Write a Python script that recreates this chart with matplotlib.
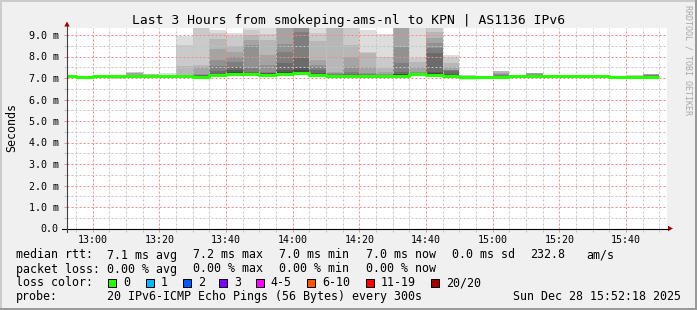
import matplotlib
matplotlib.use("Agg")
import matplotlib.pyplot as plt
import matplotlib.dates as mdates
from matplotlib.patches import Rectangle, Polygon
from matplotlib.lines import Line2D
from matplotlib.ticker import MultipleLocator, FuncFormatter
import numpy as np
import pandas as pd

W, H = 697, 310
FONT = "DejaVu Sans Mono"
plt.rcParams["font.family"] = FONT

TITLE = "Last 3 Hours from smokeping-ams-nl to KPN | AS1136 IPv6"
t_start = pd.Timestamp("2025-12-28 12:52:18")
t_end = pd.Timestamp("2025-12-28 15:52:18")
# 36 five-minute bins, 12:50 .. 15:50
bin_edges = pd.date_range("2025-12-28 12:50", periods=37, freq="5min")

median_ms = [7.07, 7.06, 7.07, 7.07, 7.08, 7.08, 7.07, 7.08, 7.06, 7.12,
             7.20, 7.18, 7.15, 7.20, 7.24, 7.15, 7.07, 7.10, 7.10, 7.10,
             7.10, 7.18, 7.12, 7.08, 7.06, 7.03, 7.06, 7.07, 7.08, 7.08,
             7.07, 7.08, 7.08, 7.05, 7.05, 7.04]

# 20 sorted pings per bin (ms)
pings_ms = [
    [7.02, 7.03, 7.04, 7.05, 7.05, 7.06, 7.06, 7.06, 7.07, 7.07, 7.07, 7.08, 7.08, 7.08, 7.09, 7.09, 7.10, 7.11, 7.13, 7.15],
    [6.97, 6.99, 7.01, 7.02, 7.03, 7.04, 7.05, 7.05, 7.06, 7.06, 7.06, 7.07, 7.07, 7.07, 7.08, 7.08, 7.09, 7.09, 7.10, 7.11],
    [7.02, 7.03, 7.04, 7.05, 7.05, 7.06, 7.06, 7.06, 7.07, 7.07, 7.07, 7.07, 7.08, 7.08, 7.08, 7.09, 7.09, 7.10, 7.10, 7.11],
    [6.97, 6.99, 7.01, 7.02, 7.04, 7.05, 7.05, 7.06, 7.06, 7.07, 7.07, 7.08, 7.08, 7.08, 7.09, 7.09, 7.10, 7.10, 7.11, 7.12],
    [7.03, 7.04, 7.05, 7.05, 7.06, 7.06, 7.07, 7.07, 7.08, 7.08, 7.08, 7.09, 7.09, 7.10, 7.12, 7.16, 7.25, 7.25, 7.26, 7.27],
    [7.03, 7.04, 7.05, 7.06, 7.06, 7.07, 7.07, 7.07, 7.08, 7.08, 7.08, 7.09, 7.10, 7.12, 7.15, 7.16, 7.16, 7.17, 7.17, 7.18],
    [7.02, 7.03, 7.04, 7.05, 7.05, 7.06, 7.06, 7.06, 7.07, 7.07, 7.07, 7.08, 7.08, 7.08, 7.09, 7.09, 7.10, 7.11, 7.15, 7.22],
    [7.01, 7.03, 7.04, 7.05, 7.06, 7.06, 7.07, 7.07, 7.08, 7.08, 7.09, 7.10, 7.11, 7.12, 7.13, 7.14, 7.15, 7.56, 8.53, 8.97],
    [6.99, 7.01, 7.02, 7.03, 7.04, 7.05, 7.05, 7.06, 7.06, 7.06, 7.07, 7.08, 7.10, 7.12, 7.15, 7.20, 7.50, 7.62, 9.50, 9.60],
    [7.05, 7.06, 7.07, 7.08, 7.09, 7.10, 7.10, 7.11, 7.11, 7.12, 7.13, 7.16, 7.20, 7.33, 7.57, 7.84, 8.35, 8.81, 9.07, 9.23],
    [7.10, 7.12, 7.14, 7.15, 7.16, 7.17, 7.18, 7.19, 7.19, 7.20, 7.21, 7.27, 7.35, 7.53, 7.73, 7.96, 8.20, 8.50, 8.95, 9.08],
    [7.08, 7.10, 7.12, 7.13, 7.14, 7.15, 7.16, 7.17, 7.17, 7.18, 7.19, 7.22, 7.25, 7.30, 7.45, 8.53, 8.77, 9.00, 9.25, 9.60],
    [7.07, 7.09, 7.10, 7.11, 7.12, 7.13, 7.13, 7.14, 7.14, 7.15, 7.16, 7.18, 7.22, 7.25, 7.30, 7.60, 8.07, 8.75, 9.05, 9.40],
    [7.10, 7.12, 7.14, 7.15, 7.16, 7.17, 7.18, 7.19, 7.19, 7.20, 7.22, 7.30, 7.37, 7.70, 8.22, 8.60, 9.50, 9.60, 9.70, 9.80],
    [7.12, 7.15, 7.17, 7.18, 7.19, 7.20, 7.21, 7.22, 7.23, 7.24, 7.25, 7.35, 7.45, 7.92, 9.14, 9.50, 9.60, 9.70, 9.80, 9.90],
    [7.05, 7.08, 7.10, 7.11, 7.12, 7.13, 7.13, 7.14, 7.14, 7.15, 7.17, 7.20, 7.25, 7.37, 7.50, 7.60, 7.84, 8.70, 9.10, 9.45],
    [7.00, 7.02, 7.02, 7.03, 7.03, 7.03, 7.04, 7.05, 7.06, 7.06, 7.08, 7.10, 7.12, 7.15, 7.18, 7.22, 7.30, 9.50, 9.60, 9.70],
    [7.03, 7.05, 7.06, 7.07, 7.08, 7.08, 7.09, 7.09, 7.10, 7.10, 7.11, 7.13, 7.15, 7.17, 7.30, 7.53, 7.99, 8.53, 9.50, 9.60],
    [7.03, 7.05, 7.06, 7.07, 7.08, 7.08, 7.09, 7.09, 7.10, 7.10, 7.11, 7.12, 7.13, 7.15, 7.18, 7.22, 7.53, 8.15, 8.20, 9.25],
    [7.03, 7.05, 7.06, 7.07, 7.08, 7.08, 7.09, 7.09, 7.10, 7.10, 7.11, 7.12, 7.13, 7.14, 7.15, 7.17, 7.30, 7.45, 7.99, 9.03],
    [7.03, 7.05, 7.06, 7.07, 7.08, 7.08, 7.09, 7.09, 7.10, 7.10, 7.14, 7.17, 7.20, 7.30, 7.69, 8.46, 9.50, 9.60, 9.70, 9.80],
    [7.10, 7.12, 7.13, 7.14, 7.15, 7.16, 7.16, 7.17, 7.17, 7.18, 7.19, 7.20, 7.21, 7.23, 7.25, 7.30, 7.53, 7.76, 7.92, 9.50],
    [7.04, 7.06, 7.07, 7.08, 7.09, 7.10, 7.10, 7.11, 7.11, 7.12, 7.17, 7.22, 7.30, 8.15, 8.38, 8.61, 8.84, 9.15, 9.50, 9.60],
    [7.01, 7.03, 7.04, 7.05, 7.06, 7.06, 7.07, 7.07, 7.08, 7.08, 7.10, 7.13, 7.17, 7.34, 7.36, 7.37, 7.53, 7.69, 7.92, 8.07],
    [6.91, 6.95, 6.99, 7.01, 7.02, 7.03, 7.04, 7.05, 7.05, 7.06, 7.06, 7.07, 7.07, 7.08, 7.08, 7.09, 7.09, 7.10, 7.12, 7.15],
    [6.94, 6.96, 6.97, 6.98, 6.99, 7.00, 7.01, 7.02, 7.02, 7.03, 7.03, 7.04, 7.04, 7.05, 7.05, 7.06, 7.06, 7.07, 7.08, 7.10],
    [6.95, 6.97, 6.99, 7.00, 7.02, 7.03, 7.04, 7.05, 7.05, 7.06, 7.06, 7.07, 7.08, 7.10, 7.15, 7.20, 7.25, 7.32, 7.33, 7.34],
    [7.02, 7.03, 7.04, 7.05, 7.05, 7.06, 7.06, 7.06, 7.07, 7.07, 7.07, 7.07, 7.08, 7.08, 7.08, 7.09, 7.09, 7.10, 7.11, 7.12],
    [7.02, 7.03, 7.04, 7.05, 7.06, 7.06, 7.07, 7.07, 7.08, 7.08, 7.08, 7.09, 7.10, 7.12, 7.16, 7.20, 7.21, 7.21, 7.22, 7.22],
    [7.03, 7.04, 7.05, 7.05, 7.06, 7.06, 7.07, 7.07, 7.08, 7.08, 7.08, 7.09, 7.09, 7.09, 7.10, 7.10, 7.11, 7.12, 7.13, 7.15],
    [7.02, 7.03, 7.04, 7.05, 7.05, 7.06, 7.06, 7.06, 7.07, 7.07, 7.07, 7.07, 7.08, 7.08, 7.08, 7.09, 7.09, 7.10, 7.10, 7.11],
    [7.03, 7.04, 7.05, 7.05, 7.06, 7.06, 7.07, 7.07, 7.08, 7.08, 7.08, 7.09, 7.09, 7.09, 7.10, 7.10, 7.11, 7.12, 7.15, 7.16],
    [7.03, 7.04, 7.05, 7.05, 7.06, 7.06, 7.07, 7.07, 7.08, 7.08, 7.08, 7.09, 7.09, 7.09, 7.10, 7.10, 7.11, 7.12, 7.13, 7.16],
    [7.00, 7.01, 7.02, 7.03, 7.03, 7.04, 7.04, 7.04, 7.05, 7.05, 7.05, 7.05, 7.06, 7.06, 7.06, 7.07, 7.07, 7.08, 7.08, 7.09],
    [7.00, 7.01, 7.02, 7.03, 7.03, 7.04, 7.04, 7.04, 7.05, 7.05, 7.05, 7.06, 7.06, 7.06, 7.07, 7.07, 7.08, 7.09, 7.12, 7.16],
    [6.99, 7.00, 7.01, 7.02, 7.02, 7.03, 7.03, 7.03, 7.04, 7.04, 7.04, 7.05, 7.06, 7.08, 7.12, 7.16, 7.17, 7.17, 7.18, 7.18],
]

rtt_stats = ["7.1 ms avg", "7.2 ms max", "7.0 ms min", "7.0 ms now",
             "0.0 ms sd", "232.8", "am/s"]
loss_stats = ["0.00 % avg", "0.00 % max", "0.00 % min", "0.00 % now"]
loss_labels = ["0", "1", "2", "3", "4-5", "6-10", "11-19", "20/20"]
loss_colors = ["#26ff00", "#00b8ff", "#0059ff", "#7e00ff",
               "#ff00ff", "#ff5500", "#ff0000", "#a10000"]
probe_text = "20 IPv6-ICMP Echo Pings (56 Bytes) every 300s"
stamp_text = "Sun Dec 28 15:52:18 2025"

# layout (pixels in the 697x310 canvas)
rtt_x = [107.3, 193.3, 279.3, 366, 451.7, 530, 586.7]
box_x = [108.3, 145.7, 182.7, 219.3, 255.7, 307.3, 365.7, 430.7]
row_base = [258.5, 272.5, 286.5, 300.3]
AX_L, AX_R, AX_B, AX_T = 67, 667, 228.5, 28
PX_PER_MS = 21.5


def fx(x):
    return x / W


def fy(y):
    return 1 - y / H


fig = plt.figure(figsize=(W / 100, H / 100), dpi=100)
fig.patch.set_facecolor("#f0f0f0")

ax = fig.add_axes([fx(AX_L), fy(AX_B), (AX_R - AX_L) / W, (AX_B - AX_T) / H])
ax.set_facecolor("white")
ax.set_xlim(mdates.date2num(t_start), mdates.date2num(t_end))
ax.set_ylim(0, (AX_B - AX_T) / PX_PER_MS)

xe = mdates.date2num(bin_edges.to_pydatetime())
P = np.array(pings_ms)
for ibot in range(1, 11):
    itop = 21 - ibot
    g = int(190 / 10 * (10 - ibot)) + 50
    lo = np.append(P[:, ibot - 1], P[-1, ibot - 1])
    hi = np.append(P[:, itop - 1], P[-1, itop - 1])
    ax.fill_between(xe, lo, hi, step="post", color=f"#{g:02x}{g:02x}{g:02x}",
                    lw=0, zorder=1)

med = np.array(median_ms)
ax.plot(xe, np.append(med, med[-1]), drawstyle="steps-post", color="#26ff00",
        lw=2.2, solid_capstyle="butt", zorder=4)

# grid & ticks (rrdtool style dotted lines)
ax.xaxis.set_major_locator(mdates.MinuteLocator(byminute=[0, 20, 40]))
ax.xaxis.set_minor_locator(mdates.MinuteLocator(byminute=range(0, 60, 5)))
ax.xaxis.set_major_formatter(mdates.DateFormatter("%H:%M"))
ax.yaxis.set_major_locator(MultipleLocator(1))
ax.yaxis.set_minor_locator(MultipleLocator(0.5))
ax.yaxis.set_major_formatter(FuncFormatter(lambda v, _: "0.0" if v == 0 else f"{v:.1f} m"))
ax.set_axisbelow(False)
ax.grid(which="minor", color="#c4c4c4", linestyle=(0, (2, 2)), lw=0.72)
ax.grid(which="major", color="#f08c8c", linestyle=(0, (2, 2)), lw=0.72)
ax.tick_params(axis="both", which="both", labelsize=7.2, width=0.72)
ax.tick_params(axis="x", which="major", length=2, color="#f08c8c", pad=3)
ax.tick_params(axis="x", which="minor", length=2, color="#c4c4c4")
ax.tick_params(axis="y", which="major", length=2, color="#f08c8c", pad=4)
ax.tick_params(axis="y", which="minor", length=2, color="#c4c4c4")
for s in ax.spines.values():
    s.set_visible(False)

# axis lines and arrows
fig.add_artist(Line2D([fx(62), fx(668)], [fy(AX_B)] * 2, color="black", lw=0.8))
fig.add_artist(Line2D([fx(AX_L)] * 2, [fy(232), fy(26)], color="#404040", lw=0.8))
fig.add_artist(Polygon([(fx(64.3), fy(26.5)), (fx(69.7), fy(26.5)), (fx(67), fy(21.5))],
                       closed=True, transform=fig.transFigure, color="#a00000", lw=0))
fig.add_artist(Polygon([(fx(668), fy(225.8)), (fx(668), fy(231.2)), (fx(673), fy(AX_B))],
                       closed=True, transform=fig.transFigure, color="#a00000", lw=0))

# titles
fig.text(fx(348.5), fy(24), TITLE, ha="center", va="baseline", fontsize=9.4)
fig.text(fx(11.5), fy(127), "Seconds", rotation=90, ha="center", va="center", fontsize=8.4)
fig.text(fx(688.3), fy(5), "RRDTOOL / TOBI OETIKER", rotation=270, ha="center",
         va="top", fontsize=6.0, color="#a8a8a8")

# legend block
fs = 8.4
fig.text(fx(16), fy(row_base[0]), "median rtt:", va="baseline", fontsize=fs)
for s, x in zip(rtt_stats, rtt_x):
    fig.text(fx(x), fy(row_base[0]), s, va="baseline", fontsize=fs)
fig.text(fx(16), fy(row_base[1]), "packet loss:", va="baseline", fontsize=fs)
for s, x in zip(loss_stats, rtt_x):
    fig.text(fx(x), fy(row_base[1]), s, va="baseline", fontsize=fs)
fig.text(fx(16), fy(row_base[2]), "loss color:", va="baseline", fontsize=fs)
for lab, col, bx in zip(loss_labels, loss_colors, box_x):
    fig.add_artist(Rectangle((fx(bx), fy(286.8)), 8 / W, 8.3 / H, transform=fig.transFigure,
                             facecolor=col, edgecolor="black", lw=0.72))
    fig.text(fx(bx + 15), fy(row_base[2]), lab, va="baseline", fontsize=fs)
fig.text(fx(16), fy(row_base[3]), "probe:", va="baseline", fontsize=fs)
fig.text(fx(107.3), fy(row_base[3]), probe_text, va="baseline", fontsize=fs)
fig.text(fx(513.3), fy(row_base[3]), stamp_text, va="baseline", fontsize=fs)

# 3D-ish frame
fig.add_artist(Rectangle((0, fy(2)), 1, 2 / H, transform=fig.transFigure, color="#cbcbcb", lw=0))
fig.add_artist(Rectangle((0, 0), 2 / W, 1, transform=fig.transFigure, color="#cbcbcb", lw=0))
fig.add_artist(Rectangle((0, 0), 1, 2.5 / H, transform=fig.transFigure, color="#999999", lw=0))
fig.add_artist(Rectangle((fx(695), 0), 2 / W, 1, transform=fig.transFigure, color="#999999", lw=0))

fig.savefig("out.png", dpi=100, facecolor=fig.get_facecolor())
